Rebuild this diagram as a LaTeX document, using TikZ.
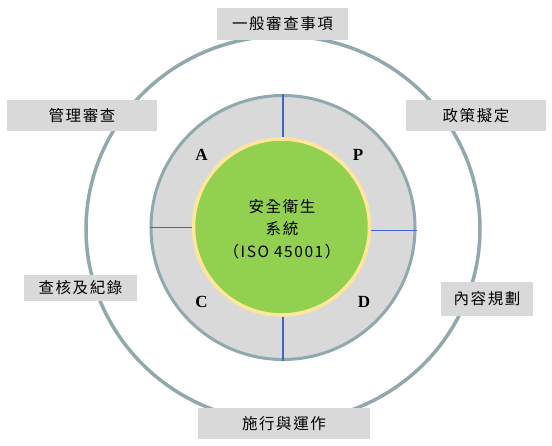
\documentclass[tikz,border=0pt]{standalone}
\usepackage{fontspec}
\setmainfont{Liberation Serif}
\newfontfamily\cjk[LetterSpace=10]{Noto Sans CJK TC}
\usetikzlibrary{shapes.geometric}
\definecolor{ringc}{HTML}{8FA9AC}
\definecolor{boxc}{HTML}{D9D9D9}
\definecolor{greenc}{HTML}{92D050}
\definecolor{yellowc}{HTML}{FFE699}
\definecolor{bluec}{HTML}{3E66C9}
\tikzset{
  lbl/.style={fill=boxc, inner sep=0pt, font=\cjk\fontsize{15.5}{16}\selectfont},
  pdca/.style={font=\fontsize{17}{17}\bfseries\selectfont, inner sep=0pt},
  divider/.style={draw=bluec, line width=1.2pt},
}
\begin{document}
\begin{tikzpicture}[x=1pt,y=-1pt]
\useasboundingbox (0,0) rectangle (552,446);
% outer ring
\node[ellipse, draw=ringc, line width=3.5pt, minimum width=394pt, minimum height=386pt, inner sep=0pt] (outer) at (283,229) {};
% middle ring
\node[circle, draw=ringc, fill=boxc, line width=3pt, minimum size=264pt, inner sep=0pt] (ring) at (283,227.5) {};
% core
\node[circle, draw=yellowc, fill=greenc, line width=3.5pt, minimum size=176pt, inner sep=0pt] (core) at (281.5,227) {};
% dividers
\draw[divider] (ring.north) -- (ring.north |- core.north);
\draw[divider] (ring.south) -- (ring.south |- core.south);
\draw[divider] (ring.west) -- (ring.west -| core.west);
\draw[divider] ([yshift=-3pt]ring.east) -- ([yshift=-3pt]ring.east -| core.east);
% center text
\node[align=center, font=\cjk\fontsize{15.5}{22.5}\selectfont, inner sep=0pt] (title) at (282,229) {安全衛生\\系統\\（ISO 45001）};
% PDCA letters
\node[pdca] (A) at (201.5,155) {A};
\node[pdca] (P) at (358,155) {P};
\node[pdca] (C) at (201.5,302) {C};
\node[pdca] (D) at (364,302) {D};
% labels
\node[lbl, minimum width=131pt, minimum height=32pt] (b1) at (282.5,24) {一般審查事項};
\node[lbl, minimum width=150pt, minimum height=31pt] (b2) at (82,115.5) {管理審查};
\node[lbl, minimum width=140pt, minimum height=31pt] (b3) at (476,115.5) {政策擬定};
\node[lbl, minimum width=113pt, minimum height=26pt] (b4) at (80.5,288) {查核及紀錄};
\node[lbl, minimum width=92pt, minimum height=34pt] (b5) at (487,299) {內容規劃};
\node[lbl, minimum width=172pt, minimum height=31pt] (b6) at (284,423.5) {施行與運作};
\end{tikzpicture}
\end{document}
